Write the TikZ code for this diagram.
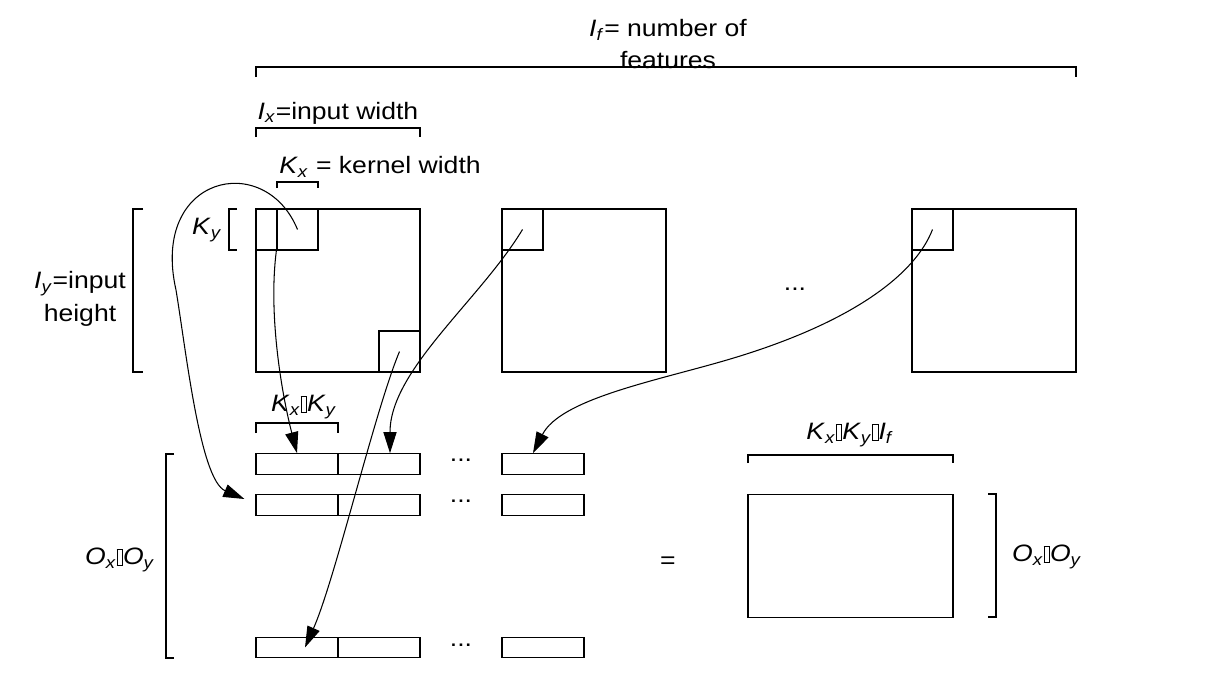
\documentclass[tikz,border=0pt]{standalone}
\usepackage{fontspec}
\setmainfont{Liberation Sans}[FakeStretch=1.12]
\usepackage{tikz}
\usetikzlibrary{arrows.meta, calc}
\newcommand{\vsub}[2]{\textit{#1}\textsubscript{\textit{#2}}}
\newcommand{\tofu}{{\setlength{\fboxsep}{0pt}\setlength{\fboxrule}{0.5pt}\fbox{\rule{0pt}{0.62em}\hspace{0.2em}}}}
\tikzstyle{fmap}=[rectangle, draw, line width=0.7pt, inner sep=0pt,
  minimum width=3.28cm, minimum height=3.26cm]
\tikzstyle{kbox}=[rectangle, draw, line width=0.7pt, inner sep=0pt,
  minimum size=0.82cm]
\tikzstyle{cell}=[rectangle, draw, line width=0.7pt, inner sep=0pt,
  minimum width=1.64cm, minimum height=0.41cm]
\tikzstyle{lbl}=[inner sep=0pt, align=center,
  font=\fontsize{13.5}{18.5}\selectfont]
\tikzstyle{brk}=[line width=0.7pt]
\tikzstyle{karr}=[-{Triangle[length=12pt, width=7.5pt]}, line width=0.6pt]

\begin{document}
\begin{tikzpicture}[x=0.02cm, y=-0.02cm]
        \useasboundingbox (0,0) rectangle (1225,693);
        % input feature maps
        \node[fmap] (m1) at (338,290.5) {};
        \node[fmap] (m2) at (584,290.5) {};
        \node[fmap] (m3) at (994,290.5) {};
        \node[lbl] (mdots) at (795,289) {...};
        % kernel windows
        \node[kbox, minimum width=0.42cm] (k0) at (266.5,229.5) {};
        \node[kbox] (k1) at (297.5,229.5) {};
        \node[kbox] (k2) at (399.5,351.5) {};
        \node[kbox] (k3) at (522.5,229.5) {};
        \node[kbox] (k4) at (932.5,229.5) {};
        % unrolled rows
        \node[cell] (r1c1) at (297,464) {};
        \node[cell] (r1c2) at (379,464) {};
        \node[lbl] (r1d) at (461,460) {...};
        \node[cell] (r1c4) at (543,464) {};
        \node[cell] (r2c1) at (297,505) {};
        \node[cell] (r2c2) at (379,505) {};
        \node[lbl] (r2d) at (461,501) {...};
        \node[cell] (r2c4) at (543,505) {};
        \node[cell] (r3c1) at (297,647.5) {};
        \node[cell] (r3c2) at (379,647.5) {};
        \node[lbl] (r3d) at (461,645) {...};
        \node[cell] (r3c4) at (543,647.5) {};
        % result matrix
        \node[lbl] (eq) at (668,563) {=};
        \node[rectangle, draw, line width=0.7pt, minimum width=4.1cm,
          minimum height=2.46cm] (res) at (850.5,556) {};
        % brackets
        \draw[brk] (256,77) -- (256,67) -- (1076,67) -- (1076,77);
        \draw[brk] (256,137) -- (256,128) -- (420,128) -- (420,137);
        \draw[brk] (277,188) -- (277,182) -- (318,182) -- (318,188);
        \draw[brk] (237,209) -- (229,209) -- (229,250) -- (237,250);
        \draw[brk] (143,209) -- (133,209) -- (133,372) -- (143,372);
        \draw[brk] (256,433) -- (256,423) -- (338,423) -- (338,433);
        \draw[brk] (174,454) -- (166,454) -- (166,658) -- (174,658);
        \draw[brk] (748,463) -- (748,455) -- (953,455) -- (953,463);
        \draw[brk] (988,494) -- (996,494) -- (996,617) -- (988,617);
        % labels
        \node[lbl] (lf) at (668,44) {\vsub{I}{f}= number of\\features};
        \node[lbl] (lx) at (338,113) {\vsub{I}{x}=input width};
        \node[lbl] (lkx) at (380,167) {\vsub{K}{x} = kernel width};
        \node[lbl] (lky) at (207,230) {\vsub{K}{y}};
        \node[lbl] (ly) at (80,299) {\vsub{I}{y}=input\\height};
        \node[lbl] (lrow) at (304,407) {\vsub{K}{x}\tofu\vsub{K}{y}};
        \node[lbl] (lo) at (120,560) {\vsub{O}{x}\tofu\vsub{O}{y}};
        \node[lbl] (lres) at (850,435) {\vsub{K}{x}\tofu\vsub{K}{y}\tofu\vsub{I}{f}};
        \node[lbl] (lro) at (1047,557) {\vsub{O}{x}\tofu\vsub{O}{y}};
        % window to row arrows
        \draw[karr] (k1.south west) .. controls (268,315) and (282,395) .. (r1c1.north);
        \draw[karr] (k1.center) .. controls (265,150) and (150,175) .. (176,290)
          .. controls (186,350) and (200,480) .. ($(r2c1.west)+(-11,-6)$);
        \draw[karr] (k2.center) .. controls (375,410) and (335,580) .. ($(r3c1.center)+(8,0)$);
        \draw[karr] (k3.center) .. controls (480,300) and (390,370) .. ($(r1c2.north)+(11,0)$);
        \draw[karr] (k4.center) .. controls (915,275) and (850,325) .. (720,362)
          .. controls (650,382) and (560,400) .. ($(r1c4.north)+(-10,0)$);
      \end{tikzpicture}
\end{document}
